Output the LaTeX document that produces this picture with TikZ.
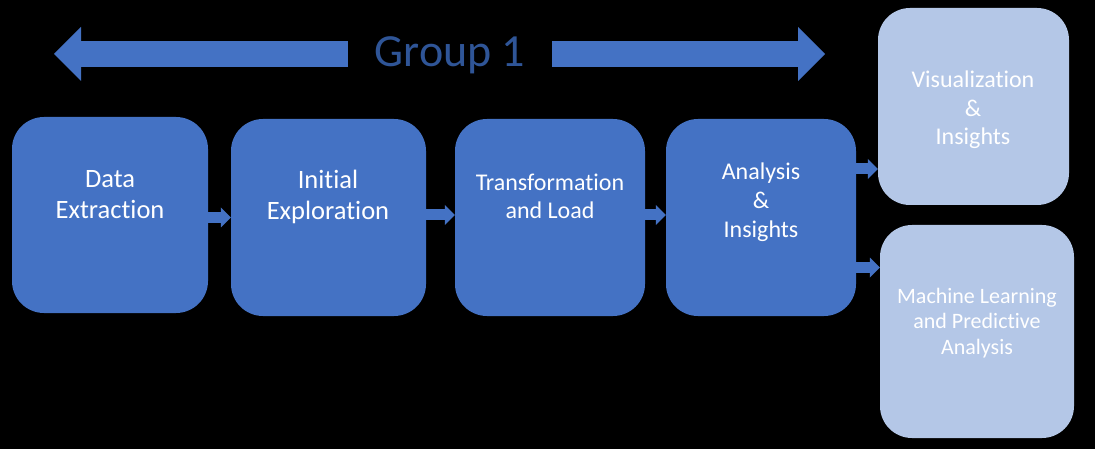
\documentclass[tikz,border=0pt]{standalone}
\usepackage{fontspec}
\setmainfont{Carlito}[Ligatures=NoCommon]
\usetikzlibrary{arrows.meta}
\definecolor{mainblue}{HTML}{4472C4}
\definecolor{lightblue}{HTML}{B4C7E7}
\definecolor{grouptext}{HTML}{2F5597}
\begin{document}
\begin{tikzpicture}[x=1pt,y=-1pt,
  box/.style={draw=none, fill=mainblue, rounded corners=32pt, inner sep=0pt},
  lightbox/.style={box, fill=lightblue},
  lbl/.style={text=white, align=center, inner sep=0pt},
  smallarrow/.style={draw=mainblue, line width=11pt, -{Triangle[width=20pt,length=10pt,line width=0pt]}},
  bigarrow/.style={draw=mainblue, line width=26pt, -{Triangle[width=54pt,length=27pt,line width=0pt]}}]
\fill[black] (0,0) rectangle (1095,449);
\useasboundingbox (0,0) rectangle (1095,449);

% boxes
\node[box, minimum width=196pt, minimum height=196pt] (d1) at (110,215) {};
\node[box, minimum width=195pt, minimum height=197pt] (d2) at (328.5,217.5) {};
\node[box, minimum width=190pt, minimum height=197pt] (d3) at (550,217.5) {};
\node[box, minimum width=190pt, minimum height=197pt] (d4) at (761,217.5) {};
\node[lightbox, minimum width=191pt, minimum height=197pt] (d5) at (973.5,106.5) {};
\node[lightbox, minimum width=194pt, minimum height=213pt] (d6) at (977,331.5) {};

% labels
\node[lbl, font=\fontsize{26.5}{31}\selectfont] (t1) at (110,195) {Data\\Extraction};
\node[lbl, font=\fontsize{26.5}{31}\selectfont] (t2) at (328,197) {Initial\\Exploration};
\node[lbl, font=\fontsize{24}{28}\selectfont] (t3) at (550,196) {Transformation\\and Load};
\node[lbl, font=\fontsize{24}{29}\selectfont] (t4) at (761,202) {Analysis\\\&\\Insights};
\node[lbl, font=\fontsize{24}{28.5}\selectfont] (t5) at (973,110) {Visualization\\\&\\Insights};
\node[lbl, font=\fontsize{22}{25.5}\selectfont] (t6) at (977,323) {Machine Learning\\and Predictive\\Analysis};

% small connectors
\draw[smallarrow] ([yshift=-2.5pt]d1.east) -- ([yshift=-2.5pt]d1.east -| d2.west);
\draw[smallarrow] ([yshift=2.5pt]d2.east) -- ([yshift=2.5pt]d2.east -| d3.west);
\draw[smallarrow] ([yshift=2.5pt]d3.east) -- ([yshift=2.5pt]d3.east -| d4.west);
\draw[smallarrow] ([yshift=48.5pt]d4.east) -- ([yshift=48.5pt]d4.east -| d5.west);
\draw[smallarrow] ([yshift=-50pt]d4.east) -- ([yshift=-50pt]d4.east -| d6.west);

% group arrow
\node[inner sep=0pt, minimum width=204pt, text height=26pt, text depth=0pt, text=grouptext, font=\fontsize{46}{50}\selectfont] (g) at (450,54) {Group 1};
\coordinate (tipL) at (54,54);
\coordinate (tipR) at (825,54);
\draw[bigarrow] (g.west) -- (tipL);
\draw[bigarrow] (g.east) -- (tipR);
\end{tikzpicture}
\end{document}
